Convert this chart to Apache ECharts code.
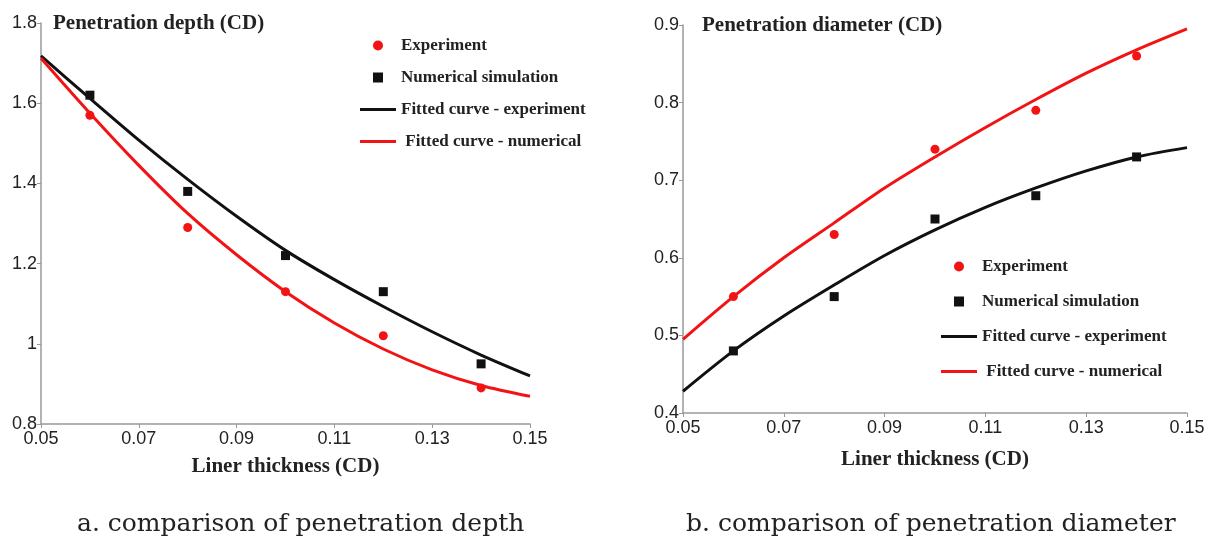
<!DOCTYPE html>
<html>
<head>
<meta charset="utf-8">
<script src="https://cdn.jsdelivr.net/npm/echarts@6/dist/echarts.min.js"></script>
<style>
  html, body { margin: 0; padding: 0; background: #fff; }
  #chart { width: 1208px; height: 538px; }
</style>
</head>
<body>
<div id="chart"></div>
<script>
// measured points (liner thickness in CD)
const thickness = [0.06, 0.08, 0.10, 0.12, 0.14];
const depthExperiment = [1.57, 1.29, 1.13, 1.02, 0.89];
const depthNumerical = [1.62, 1.38, 1.22, 1.13, 0.95];
const diameterExperiment = [0.55, 0.63, 0.74, 0.79, 0.86];
const diameterNumerical = [0.48, 0.55, 0.65, 0.68, 0.73];

// fitted curves
const curveThickness = [0.05, 0.06, 0.07, 0.08, 0.09, 0.10, 0.11, 0.12, 0.13, 0.14, 0.15];
const depthFitBlack = [1.718, 1.612, 1.508, 1.41, 1.318, 1.233, 1.160, 1.093, 1.030, 0.972, 0.920];
const depthFitRed = [1.712, 1.575, 1.445, 1.325, 1.222, 1.13, 1.052, 0.987, 0.935, 0.896, 0.869];
const diameterFitBlack = [0.428, 0.48, 0.525, 0.565, 0.603, 0.636, 0.665, 0.69, 0.712, 0.73, 0.742];
const diameterFitRed = [0.495, 0.55, 0.60, 0.645, 0.69, 0.73, 0.768, 0.804, 0.838, 0.868, 0.895];

const names = ['Experiment', 'Numerical simulation', 'Fitted curve - experiment', ' Fitted curve - numerical'];

const RED = '#f21414';
const BLACK = '#111111';
const SERIF = '"Liberation Serif", "Times New Roman", serif';
const CAPTION = '"DejaVu Serif", "Liberation Serif", serif';
const SANS = '"Liberation Sans", Arial, sans-serif';

function pairs(xs, ys) {
  return xs.map(function (x, i) { return [x, ys[i]]; });
}

function xAxisFor(gridIndex, gap) {
  return {
    type: 'value', gridIndex: gridIndex,
    min: 0.05, max: 0.15, interval: 0.02,
    name: 'Liner thickness (CD)', nameLocation: 'middle', nameGap: gap,
    nameTextStyle: { fontFamily: SERIF, fontWeight: 'bold', fontSize: 21, color: '#222' },
    axisLine: { lineStyle: { color: '#999', width: 1.5 } },
    axisTick: { show: true, length: 4, lineStyle: { color: '#999' } },
    axisLabel: { fontFamily: SANS, fontSize: 18, color: '#222', margin: 6 },
    splitLine: { show: false }
  };
}

function yAxisFor(gridIndex, min, max, step) {
  return {
    type: 'value', gridIndex: gridIndex,
    min: min, max: max, interval: step,
    axisLine: { show: true, lineStyle: { color: '#999', width: 1.5 } },
    axisTick: { show: true, length: 4, lineStyle: { color: '#999' } },
    axisLabel: { fontFamily: SANS, fontSize: 18, color: '#222', margin: 4 },
    splitLine: { show: false }
  };
}

function seriesFor(idx, expPts, numPts, fitBlack, fitRed) {
  return [
    {
      name: names[0], type: 'scatter', xAxisIndex: idx, yAxisIndex: idx,
      symbol: 'circle', symbolSize: 9, itemStyle: { color: RED, opacity: 1 },
      data: pairs(thickness, expPts), z: 3
    },
    {
      name: names[1], type: 'scatter', xAxisIndex: idx, yAxisIndex: idx,
      symbol: 'rect', symbolSize: 9, itemStyle: { color: BLACK, opacity: 1 },
      data: pairs(thickness, numPts), z: 3
    },
    {
      name: names[2], type: 'line', xAxisIndex: idx, yAxisIndex: idx,
      smooth: 0.3, showSymbol: false,
      itemStyle: { color: BLACK }, lineStyle: { color: BLACK, width: 3 },
      data: pairs(curveThickness, fitBlack)
    },
    {
      name: names[3], type: 'line', xAxisIndex: idx, yAxisIndex: idx,
      smooth: 0.3, showSymbol: false,
      itemStyle: { color: RED }, lineStyle: { color: RED, width: 3 },
      data: pairs(curveThickness, fitRed)
    }
  ];
}

function legendAt(left, top, gap) {
  return {
    left: left, top: top, orient: 'vertical', itemGap: gap,
    itemWidth: 36, itemHeight: 10, padding: 0,
    selectedMode: false,
    itemStyle: { borderWidth: 0, opacity: 1 },
    textStyle: { fontFamily: SERIF, fontWeight: 'bold', fontSize: 17, color: '#222' },
    data: [
      { name: names[0], icon: 'circle' },
      { name: names[1], icon: 'path://M0,0H10V10H0Z' },
      { name: names[2], icon: 'path://M0,0H36V3.2H0Z' },
      { name: names[3], icon: 'path://M0,0H36V3.2H0Z' }
    ]
  };
}

const chart = echarts.init(document.getElementById('chart'));
chart.setOption({
  backgroundColor: '#fff',
  animation: false,
  title: [
    { text: 'Penetration depth (CD)', left: 53, top: 13, padding: 0,
      textStyle: { fontFamily: SERIF, fontWeight: 'bold', fontSize: 21, color: '#222' } },
    { text: 'Penetration diameter (CD)', left: 702, top: 15, padding: 0,
      textStyle: { fontFamily: SERIF, fontWeight: 'bold', fontSize: 21, color: '#222' } },
    { text: 'a. comparison of penetration depth', left: 77, top: 512, padding: 0,
      textStyle: { fontFamily: CAPTION, fontWeight: 'normal', fontSize: 25, color: '#222' } },
    { text: 'b. comparison of penetration diameter', left: 686, top: 512, padding: 0,
      textStyle: { fontFamily: CAPTION, fontWeight: 'normal', fontSize: 25, color: '#222' } }
  ],
  legend: [
    legendAt(360, 37, 15),
    legendAt(941, 258, 18)
  ],
  grid: [
    { left: 41, right: 678, top: 23, bottom: 114 },
    { left: 683, right: 21, top: 25, bottom: 125 }
  ],
  xAxis: [xAxisFor(0, 32), xAxisFor(1, 36)],
  yAxis: [yAxisFor(0, 0.8, 1.8, 0.2), yAxisFor(1, 0.4, 0.9, 0.1)],
  series: seriesFor(0, depthExperiment, depthNumerical, depthFitBlack, depthFitRed)
    .concat(seriesFor(1, diameterExperiment, diameterNumerical, diameterFitBlack, diameterFitRed))
});
</script>
</body>
</html>
